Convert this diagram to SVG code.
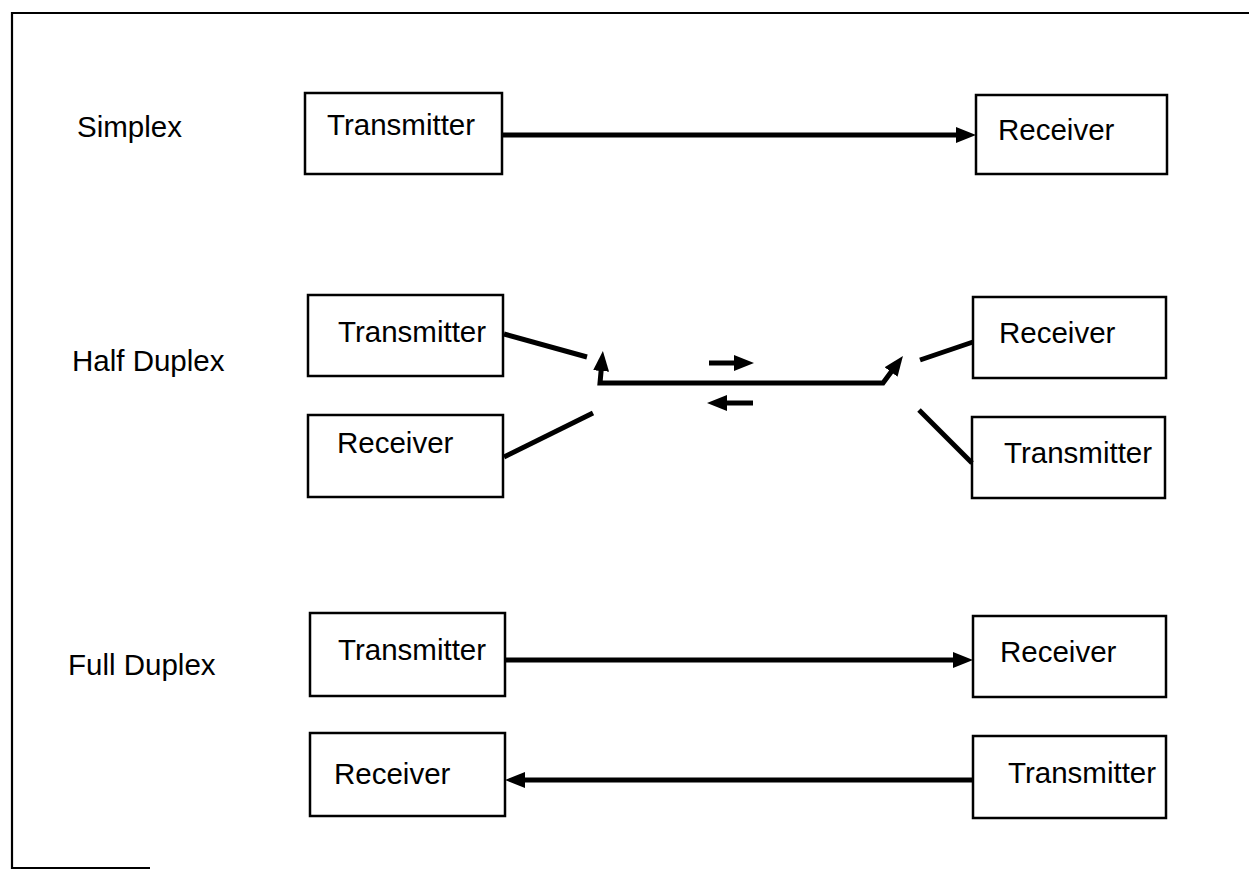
<svg xmlns="http://www.w3.org/2000/svg" width="1249" height="870" viewBox="0 0 1249 870">
<style>
.box{fill:#fff;stroke:#000;stroke-width:2.5}
.t{font-family:"Liberation Sans",Arial,sans-serif;font-size:29.5px;fill:#000}
.c{fill:none;stroke:#000;stroke-width:5}
.frame{fill:none;stroke:#000;stroke-width:2.2}
</style>
<defs>
<marker id="ah" markerUnits="userSpaceOnUse" markerWidth="20" markerHeight="16" refX="10" refY="8" orient="auto-start-reverse" viewBox="0 0 20 16">
<path d="M0,0 L20,8 L0,16 z" fill="#000"/>
</marker>
</defs>
<rect width="1249" height="870" fill="#fff"/>
<g id="frame">
<path class="frame" d="M1249,13 L12,13 L12,868 L150,868"/>
</g>
<g id="labels">
<text class="t" x="77" y="137">Simplex</text>
<text class="t" x="72" y="371">Half Duplex</text>
<text class="t" x="68" y="675">Full Duplex</text>
</g>
<g id="simplex-tx"><rect class="box" x="305" y="93" width="197" height="81"/><text class="t" x="327" y="135">Transmitter</text></g>
<g id="simplex-rx"><rect class="box" x="976" y="95" width="191" height="79"/><text class="t" x="998" y="140">Receiver</text></g>
<g id="half-tx-left"><rect class="box" x="308" y="295" width="195" height="81"/><text class="t" x="338" y="342">Transmitter</text></g>
<g id="half-rx-left"><rect class="box" x="308" y="415" width="195" height="82"/><text class="t" x="337" y="453">Receiver</text></g>
<g id="half-rx-right"><rect class="box" x="973" y="297" width="193" height="81"/><text class="t" x="999" y="343">Receiver</text></g>
<g id="half-tx-right"><rect class="box" x="972" y="417" width="193" height="81"/><text class="t" x="1004" y="463">Transmitter</text></g>
<g id="full-tx-left"><rect class="box" x="310" y="613" width="195" height="83"/><text class="t" x="338" y="660">Transmitter</text></g>
<g id="full-rx-left"><rect class="box" x="310" y="733" width="195" height="83"/><text class="t" x="334" y="784">Receiver</text></g>
<g id="full-rx-right"><rect class="box" x="973" y="616" width="193" height="81"/><text class="t" x="1000" y="662">Receiver</text></g>
<g id="full-tx-right"><rect class="box" x="973" y="736" width="193" height="82"/><text class="t" x="1008" y="783">Transmitter</text></g>
<g id="connectors">
<line class="c" x1="503" y1="135" x2="966" y2="135" marker-end="url(#ah)"/>
<line class="c" x1="504" y1="334" x2="587" y2="357"/>
<line class="c" x1="504" y1="457" x2="593" y2="413"/>
<path class="c" d="M602,361 L600,383 L883,383 L897,364" marker-start="url(#ah)" marker-end="url(#ah)"/>
<line class="c" x1="709" y1="363" x2="744" y2="363" marker-end="url(#ah)"/>
<line class="c" x1="753" y1="403" x2="717" y2="403" marker-end="url(#ah)"/>
<line class="c" x1="973" y1="342" x2="920" y2="360"/>
<line class="c" x1="972" y1="463" x2="919" y2="410"/>
<line class="c" x1="505" y1="660" x2="963" y2="660" marker-end="url(#ah)"/>
<line class="c" x1="973" y1="780" x2="515" y2="780" marker-end="url(#ah)"/>
</g>
</svg>
